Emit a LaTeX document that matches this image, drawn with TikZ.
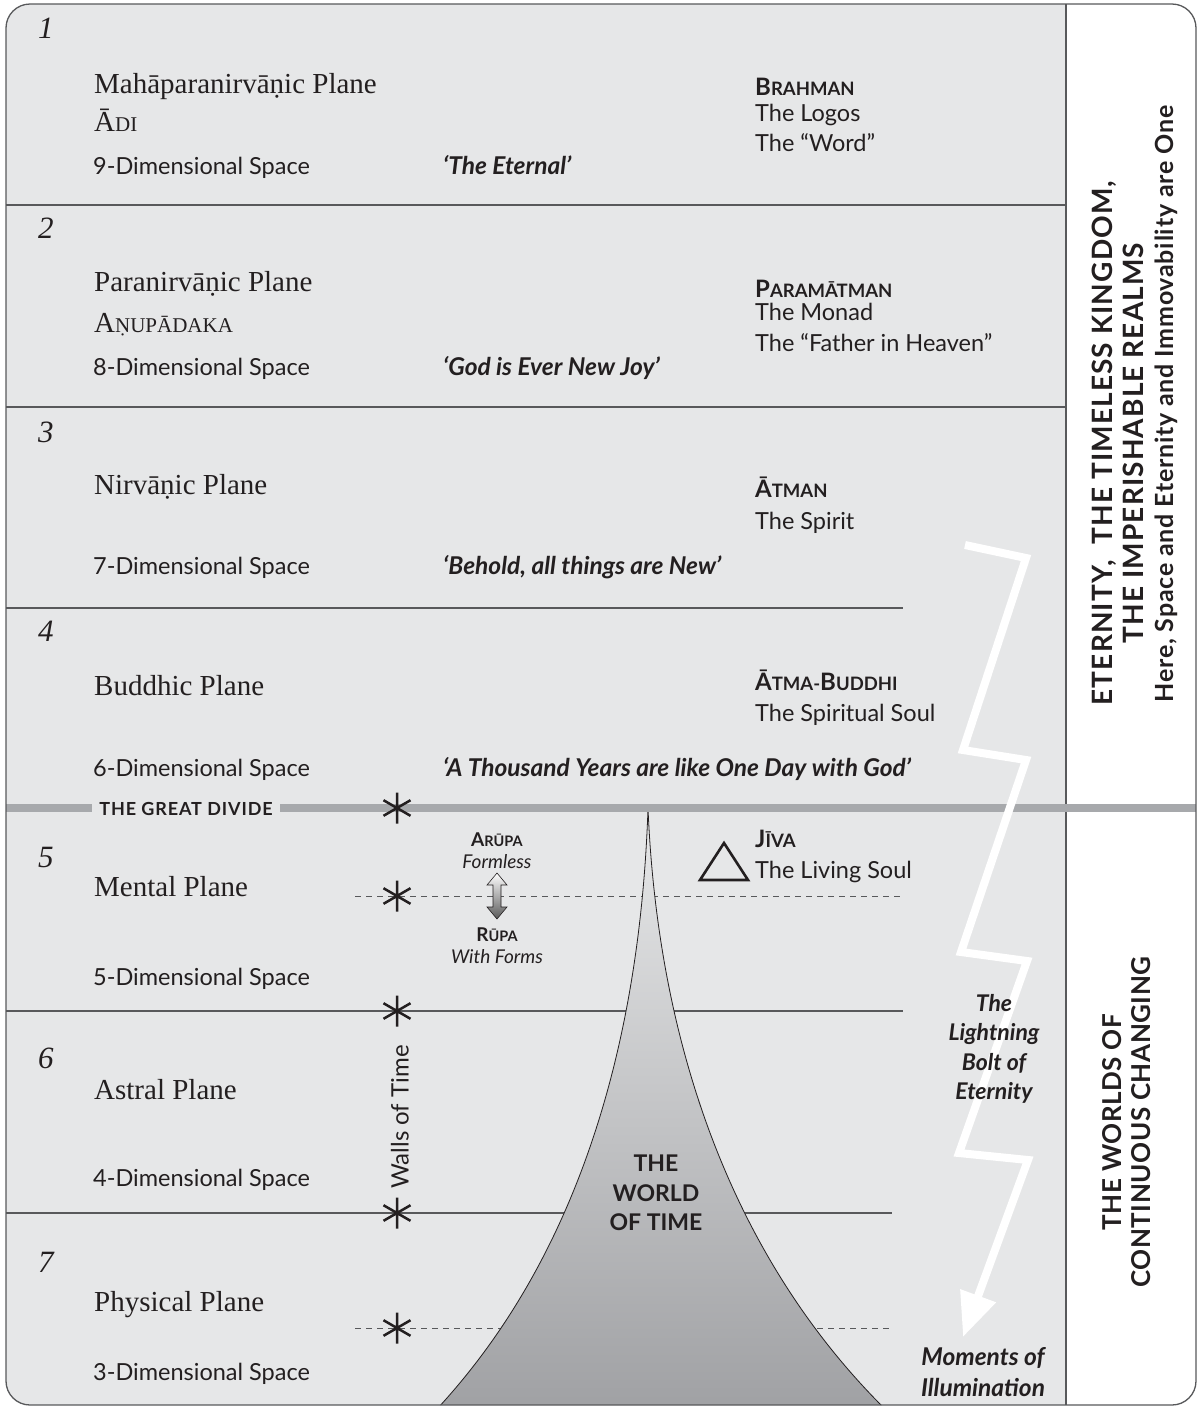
\documentclass[tikz,border=0pt]{standalone}
\usepackage{fontspec}
\setmainfont{Liberation Serif}
\setsansfont{Lato}
\usetikzlibrary{arrows.meta}

\definecolor{planebg}{RGB}{230,231,232}
\definecolor{dividegray}{RGB}{167,169,172}
\definecolor{ink}{RGB}{35,31,32}
\definecolor{rulegray}{RGB}{88,89,91}

% small capitals: first letter full size, the rest smaller
\newcommand\ksc[3][18.5]{#2{\fontsize{#1}{#1}\selectfont #3}}

\tikzset{
    planenum/.style={anchor=base west, inner sep=0pt, text=ink, font=\fontsize{31}{31}\selectfont\itshape},
    planename/.style={anchor=base west, inner sep=0pt, text=ink, font=\fontsize{29}{29}\selectfont},
    dimtext/.style={anchor=base west, inner sep=0pt, text=ink, font=\sffamily\fontsize{23.5}{23.5}\selectfont},
    motto/.style={dimtext, font=\sffamily\bfseries\itshape\fontsize{24.5}{24.5}\selectfont},
    being/.style={dimtext, font=\sffamily\bfseries\fontsize{24}{24}\selectfont},
    sidetext/.style={rotate=90, text=ink, inner sep=0pt, font=\sffamily\bfseries\fontsize{28}{28}\selectfont\addfontfeatures{LetterSpace=4}},
    planeline/.style={rulegray, line width=1.3pt},
    halfline/.style={rulegray, line width=1pt, dash pattern=on 6pt off 5pt},
    wallstar/.pic={\draw[ink, line width=2.5pt] (0,-15.5) -- (0,15.5) (-13.5,-7.8) -- (13.5,7.8) (-13.5,7.8) -- (13.5,-7.8);},
    bolt/.style={white, line width=8pt, line join=miter, -{Triangle[length=44pt,width=36pt]}},
}

\begin{document}
\begin{tikzpicture}[x=1pt, y=-1pt]

    % Page
    \useasboundingbox (0,0) rectangle (1203,1409);

    % Frame and the grey planes
    \fill[white, rounded corners=24pt] (6,4) rectangle (1196,1405);
    \begin{scope}
        \clip[rounded corners=24pt] (6,4) rectangle (1196,1405);
        \fill[planebg] (6,4) rectangle (1066,1405);

        % boundaries between the planes
        \draw[planeline] (6,205) -- (1066,205);
        \draw[planeline] (6,407) -- (1066,407);
        \draw[planeline] (6,608) -- (903,608);
        \draw[planeline] (6,1011) -- (903,1011);
        \draw[planeline] (6,1213) -- (892,1213);
        % higher and lower half of a plane
        \draw[halfline] (355,896) -- (903,896);
        \draw[halfline] (355,1328) -- (893,1328);
        \draw[rulegray, line width=1.2pt] (1066,4) -- (1066,1405);

        % The world of time
        \shade[top color=planebg!95!white, bottom color={rgb,255:red,160;green,161;blue,164}]
            (437,1409) .. controls (575,1260) and (640,1050) .. (648,808)
            .. controls (658,1050) and (735,1260) .. (885,1409) -- cycle;
        \draw[ink, line width=0.8pt]
            (437,1409) .. controls (575,1260) and (640,1050) .. (648,808)
            .. controls (658,1050) and (735,1260) .. (885,1409);

        % The great divide
        \draw[dividegray, line width=8pt] (6,808) -- (1196,808);
    \end{scope}
    \draw[rulegray, line width=1.3pt, rounded corners=24pt] (6,4) rectangle (1196,1405);

    % Walls of time
    \pic at (397,808) {wallstar};
    \pic at (397,896) {wallstar};
    \pic at (397,1011) {wallstar};
    \pic at (397,1213) {wallstar};
    \pic at (397,1328) {wallstar};
    \node[rotate=90, text=ink, font=\sffamily\fontsize{24}{24}\selectfont] (walls) at (400,1117) {Walls of Time};

    \node[text=ink, fill=planebg, inner xsep=7pt, inner ysep=2pt, font=\sffamily\bfseries\fontsize{18}{18}\selectfont\addfontfeatures{LetterSpace=5}] (divide) at (186,809) {THE GREAT DIVIDE};

    % Plane 1
    \node[planenum] (num1) at (38,38) {1};
    \node[planename] (plane1) at (94,93) {Mahāparanirvāṇic Plane};
    \node[planename] (sub1) at (94,131) {\ksc[21]{Ā}{DI}};
    \node[dimtext] (dim1) at (93,174) {9-Dimensional Space};
    \node[motto] (motto1) at (443,174) {‘The Eternal’};
    \node[being] (being1) at (755,95) {\ksc{B}{RAHMAN}};
    \node[dimtext] (role1a) at (755,121) {The Logos};
    \node[dimtext] (role1b) at (755,151) {The “Word”};

    % Plane 2
    \node[planenum] (num2) at (38,238) {2};
    \node[planename] (plane2) at (94,291) {Paranirvāṇic Plane};
    \node[planename] (sub2) at (94,332) {\ksc[21]{A}{ṆUPĀDAKA}};
    \node[dimtext] (dim2) at (93,375) {8-Dimensional Space};
    \node[motto] (motto2) at (443,375) {‘God is Ever New Joy’};
    \node[being] (being2) at (755,297) {\ksc{P}{ARAMĀTMAN}};
    \node[dimtext] (role2a) at (755,320) {The Monad};
    \node[dimtext] (role2b) at (755,351) {The “Father in Heaven”};

    % Plane 3
    \node[planenum] (num3) at (38,442) {3};
    \node[planename] (plane3) at (94,494) {Nirvāṇic Plane};
    \node[dimtext] (dim3) at (93,574) {7-Dimensional Space};
    \node[motto] (motto3) at (443,574) {‘Behold, all things are New’};
    \node[being] (being3) at (755,497) {\ksc{Ā}{TMAN}};
    \node[dimtext] (role3) at (755,529) {The Spirit};

    % Plane 4
    \node[planenum] (num4) at (38,641) {4};
    \node[planename] (plane4) at (94,695) {Buddhic Plane};
    \node[dimtext] (dim4) at (93,776) {6-Dimensional Space};
    \node[motto] (motto4) at (443,776) {‘A Thousand Years are like One Day with God’};
    \node[being] (being4) at (755,690) {\ksc{Ā}{TMA-}\ksc{B}{UDDHI}};
    \node[dimtext] (role4) at (755,721) {The Spiritual Soul};

    % Plane 5
    \node[planenum] (num5) at (38,867) {5};
    \node[planename] (plane5) at (94,896) {Mental Plane};
    \node[dimtext] (dim5) at (93,985) {5-Dimensional Space};
    \node[being] (being5) at (755,847) {\ksc{J}{ĪVA}};
    \node[dimtext] (role5) at (755,878) {The Living Soul};
    \draw[ink, line width=2.6pt, line join=miter] (700,880) -- (724,843) -- (748,880) -- cycle;

    % Arupa and rupa
    \node[text=ink, inner sep=0pt, font=\sffamily\bfseries\fontsize{19}{19}\selectfont] (arupa) at (497,840) {\ksc[14.5]{A}{RŪPA}};
    \node[text=ink, inner sep=0pt, font=\sffamily\itshape\fontsize{19}{19}\selectfont] (formless) at (497,862) {Formless};
    \node[text=ink, inner sep=0pt, font=\sffamily\bfseries\fontsize{19}{19}\selectfont] (rupa) at (497,935) {\ksc[14.5]{R}{ŪPA}};
    \node[text=ink, inner sep=0pt, font=\sffamily\itshape\fontsize{19}{19}\selectfont] (withforms) at (497,957) {With Forms};
    \shade[top color=white, bottom color=black!65, draw=ink, line width=0.6pt, shift={(497,896)}]
        (0,-23) -- (10,-11) -- (4,-11) -- (4,11) -- (10,11) -- (0,23) -- (-10,11) -- (-4,11) -- (-4,-11) -- (-10,-11) -- cycle;

    % Plane 6
    \node[planenum] (num6) at (38,1068) {6};
    \node[planename] (plane6) at (94,1099) {Astral Plane};
    \node[dimtext] (dim6) at (93,1186) {4-Dimensional Space};

    % Plane 7
    \node[planenum] (num7) at (38,1272) {7};
    \node[planename] (plane7) at (94,1311) {Physical Plane};
    \node[dimtext] (dim7) at (93,1380) {3-Dimensional Space};

    \node[align=center, text=ink, font=\sffamily\bfseries\fontsize{23}{29.5}\selectfont] (worldtime) at (656,1193) {THE\\WORLD\\OF TIME};

    % Lightning bolt
    \coordinate (b0) at (965,545);
    \coordinate (b1) at (1026,558);
    \coordinate (b2) at (963,750);
    \coordinate (b3) at (1026,760);
    \coordinate (b4) at (961,952);
    \coordinate (b5) at (1027,961);
    \coordinate (b6) at (959,1153);
    \coordinate (b7) at (1028,1160);
    \coordinate (tip) at (963,1337);
    \draw[bolt] (b0) -- (b1) -- (b2) -- (b3) -- (b4) -- (b5) -- (b6) -- (b7) -- (tip);

    \node[align=center, text=ink, font=\sffamily\bfseries\itshape\fontsize{23}{29.3}\selectfont] (boltlabel) at (994,1049) {The\\Lightning\\Bolt of\\Eternity};
    \node[align=center, text=ink, font=\sffamily\bfseries\itshape\fontsize{24.5}{30.5}\selectfont] (moments) at (983,1372) {Moments of\\Illumination};

    % Right column
    \node[sidetext] (eternity1) at (1104,443) {ETERNITY,\ \ THE TIMELESS KINGDOM,};
    \node[sidetext] (eternity2) at (1133,443) {THE IMPERISHABLE REALMS};
    \node[sidetext, font=\sffamily\bfseries\fontsize{25}{25}\selectfont\addfontfeatures{LetterSpace=3}] (eternity3) at (1166,404) {Here, Space and Eternity and Immovability are One};
    \node[sidetext, font=\sffamily\bfseries\fontsize{26}{26}\selectfont\addfontfeatures{LetterSpace=2}] (worlds1) at (1112,1122) {THE WORLDS OF};
    \node[sidetext, font=\sffamily\bfseries\fontsize{26}{26}\selectfont\addfontfeatures{LetterSpace=2}] (worlds2) at (1141,1122) {CONTINUOUS CHANGING};

\end{tikzpicture}
\end{document}
